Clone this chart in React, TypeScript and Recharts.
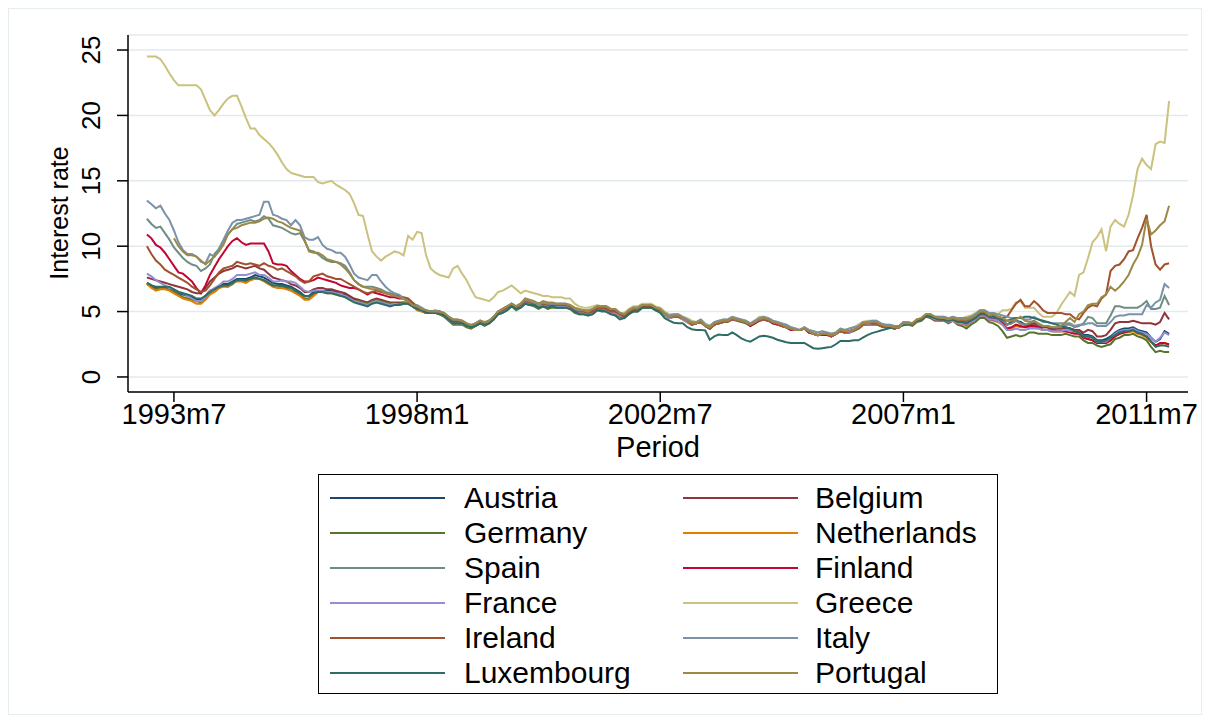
import React from 'react';
import { LineChart, Line, XAxis, YAxis, CartesianGrid } from 'recharts';

const FONT = '"Liberation Sans", Arial, Helvetica, sans-serif';

// monthly long-term interest rates, 1993m1 .. 2011m12 (one row per year)
const austria = [
  7.2, 7.0, 6.8, 6.8, 6.9, 6.8, 6.6, 6.4, 6.3, 6.2, 6.1, 5.9,
  5.9, 6.2, 6.6, 6.7, 6.9, 7.1, 7.1, 7.3, 7.5, 7.5, 7.5, 7.6,
  7.8, 7.7, 7.6, 7.4, 7.2, 7.1, 7.1, 7.0, 6.9, 6.7, 6.5, 6.2,
  6.2, 6.5, 6.6, 6.6, 6.6, 6.6, 6.5, 6.3, 6.3, 6.1, 5.9, 5.8,
  5.7, 5.6, 5.8, 5.9, 5.8, 5.7, 5.6, 5.6, 5.6, 5.6, 5.6, 5.4,
  5.2, 5.1, 5.0, 4.9, 5.0, 4.9, 4.7, 4.5, 4.2, 4.1, 4.2, 4.0,
  3.9, 4.0, 4.2, 4.0, 4.2, 4.5, 4.9, 5.1, 5.3, 5.5, 5.3, 5.5,
  5.8, 5.7, 5.6, 5.5, 5.6, 5.5, 5.5, 5.5, 5.5, 5.5, 5.4, 5.1,
  5.0, 5.0, 4.9, 5.0, 5.3, 5.3, 5.2, 5.0, 5.0, 4.8, 4.7, 5.0,
  5.1, 5.1, 5.4, 5.4, 5.4, 5.2, 5.1, 4.8, 4.6, 4.7, 4.7, 4.5,
  4.3, 4.1, 4.1, 4.2, 3.9, 3.7, 4.0, 4.2, 4.2, 4.3, 4.4, 4.4,
  4.3, 4.2, 4.0, 4.2, 4.4, 4.5, 4.4, 4.2, 4.1, 4.0, 3.8, 3.7,
  3.6, 3.6, 3.7, 3.5, 3.3, 3.2, 3.3, 3.3, 3.1, 3.3, 3.5, 3.4,
  3.5, 3.6, 3.8, 4.0, 4.1, 4.1, 4.1, 3.9, 3.8, 3.8, 3.7, 3.8,
  4.1, 4.1, 4.0, 4.3, 4.4, 4.7, 4.6, 4.5, 4.4, 4.4, 4.3, 4.4,
  4.2, 4.2, 4.1, 4.3, 4.5, 4.8, 4.8, 4.5, 4.5, 4.4, 4.2, 4.0,
  4.2, 4.3, 4.2, 4.0, 4.0, 4.1, 3.9, 3.8, 3.8, 3.7, 3.7, 3.7,
  3.8, 3.7, 3.6, 3.6, 3.2, 3.2, 3.1, 2.8, 2.8, 2.9, 3.1, 3.4,
  3.6, 3.7, 3.7, 3.8, 3.6, 3.5, 3.4, 3.0, 2.7, 2.9, 3.5, 3.3,
];

const belgium = [
  7.6, 7.5, 7.4, 7.3, 7.2, 7.1, 7.0, 6.9, 6.8, 6.7, 6.5, 6.4,
  6.4, 6.8, 7.3, 7.6, 7.9, 8.1, 8.2, 8.3, 8.5, 8.4, 8.3, 8.4,
  8.5, 8.3, 8.2, 7.9, 7.6, 7.5, 7.4, 7.3, 7.1, 7.0, 6.8, 6.5,
  6.5, 6.7, 6.8, 6.8, 6.7, 6.7, 6.6, 6.5, 6.4, 6.2, 6.0, 5.9,
  5.8, 5.7, 5.9, 6.0, 5.9, 5.8, 5.7, 5.7, 5.7, 5.7, 5.7, 5.5,
  5.3, 5.2, 5.0, 5.0, 5.0, 5.0, 4.8, 4.5, 4.3, 4.2, 4.2, 4.0,
  3.9, 4.1, 4.3, 4.1, 4.3, 4.6, 5.0, 5.1, 5.3, 5.6, 5.3, 5.5,
  5.9, 5.8, 5.7, 5.6, 5.7, 5.6, 5.6, 5.5, 5.6, 5.5, 5.4, 5.2,
  5.0, 5.0, 4.9, 5.0, 5.3, 5.3, 5.3, 5.0, 5.0, 4.8, 4.7, 5.0,
  5.2, 5.2, 5.5, 5.5, 5.5, 5.3, 5.2, 4.8, 4.6, 4.7, 4.7, 4.5,
  4.3, 4.1, 4.1, 4.3, 3.9, 3.7, 4.0, 4.2, 4.2, 4.3, 4.4, 4.4,
  4.3, 4.2, 4.0, 4.2, 4.4, 4.5, 4.4, 4.2, 4.1, 4.0, 3.8, 3.7,
  3.6, 3.6, 3.7, 3.5, 3.3, 3.2, 3.3, 3.3, 3.1, 3.3, 3.5, 3.4,
  3.5, 3.6, 3.8, 4.0, 4.1, 4.1, 4.1, 3.9, 3.8, 3.8, 3.7, 3.8,
  4.1, 4.1, 4.0, 4.3, 4.4, 4.7, 4.7, 4.5, 4.5, 4.5, 4.3, 4.4,
  4.3, 4.3, 4.2, 4.4, 4.5, 4.8, 4.8, 4.5, 4.6, 4.5, 4.4, 4.0,
  4.1, 4.3, 4.1, 4.0, 4.0, 4.1, 3.9, 3.8, 3.8, 3.6, 3.7, 3.7,
  3.7, 3.7, 3.6, 3.6, 3.4, 3.6, 3.5, 3.1, 3.1, 3.2, 3.6, 4.1,
  4.2, 4.2, 4.2, 4.3, 4.2, 4.1, 4.1, 4.1, 4.0, 4.2, 4.9, 4.4,
];

const germany = [
  7.1, 6.9, 6.7, 6.8, 6.8, 6.7, 6.5, 6.3, 6.1, 6.0, 5.9, 5.8,
  5.7, 6.0, 6.4, 6.5, 6.8, 7.0, 6.9, 7.1, 7.4, 7.4, 7.3, 7.5,
  7.6, 7.5, 7.4, 7.2, 7.0, 7.0, 6.9, 6.8, 6.6, 6.5, 6.3, 6.0,
  6.0, 6.3, 6.5, 6.5, 6.5, 6.5, 6.4, 6.2, 6.2, 6.0, 5.8, 5.8,
  5.7, 5.6, 5.8, 5.9, 5.8, 5.7, 5.6, 5.6, 5.6, 5.7, 5.6, 5.4,
  5.2, 5.1, 4.9, 4.9, 4.9, 4.8, 4.6, 4.3, 4.0, 4.0, 4.0, 3.8,
  3.7, 3.9, 4.1, 3.9, 4.1, 4.4, 4.8, 4.9, 5.1, 5.4, 5.1, 5.3,
  5.6, 5.5, 5.4, 5.2, 5.4, 5.2, 5.3, 5.3, 5.3, 5.3, 5.2, 4.9,
  4.8, 4.8, 4.7, 4.8, 5.1, 5.0, 5.0, 4.8, 4.8, 4.6, 4.5, 4.8,
  5.0, 5.0, 5.3, 5.3, 5.3, 5.1, 5.0, 4.7, 4.5, 4.6, 4.6, 4.4,
  4.2, 4.0, 4.1, 4.2, 3.9, 3.7, 4.0, 4.1, 4.2, 4.2, 4.4, 4.3,
  4.2, 4.1, 3.9, 4.1, 4.3, 4.4, 4.3, 4.1, 4.0, 3.9, 3.8, 3.6,
  3.6, 3.6, 3.7, 3.4, 3.3, 3.2, 3.3, 3.3, 3.1, 3.3, 3.5, 3.4,
  3.4, 3.5, 3.7, 4.0, 4.0, 4.0, 4.0, 3.9, 3.8, 3.8, 3.7, 3.8,
  4.0, 4.0, 3.9, 4.2, 4.3, 4.6, 4.5, 4.3, 4.3, 4.3, 4.1, 4.3,
  4.0, 3.9, 3.7, 4.0, 4.2, 4.5, 4.5, 4.2, 4.1, 3.9, 3.5, 3.0,
  3.1, 3.2, 3.1, 3.2, 3.4, 3.4, 3.3, 3.3, 3.3, 3.2, 3.2, 3.2,
  3.3, 3.2, 3.1, 3.1, 2.8, 2.6, 2.6, 2.4, 2.3, 2.4, 2.5, 2.9,
  3.0, 3.2, 3.2, 3.3, 3.1, 3.0, 2.8, 2.3, 1.9, 2.0, 1.9, 1.9,
];

const netherlands = [
  7.1, 6.8, 6.6, 6.7, 6.7, 6.6, 6.4, 6.2, 6.0, 5.9, 5.8, 5.6,
  5.6, 5.9, 6.3, 6.5, 6.8, 6.9, 6.9, 7.2, 7.3, 7.3, 7.2, 7.4,
  7.5, 7.5, 7.3, 7.1, 6.9, 6.8, 6.8, 6.7, 6.6, 6.4, 6.2, 5.9,
  5.9, 6.2, 6.5, 6.5, 6.4, 6.4, 6.3, 6.2, 6.2, 6.0, 5.8, 5.7,
  5.6, 5.5, 5.7, 5.8, 5.7, 5.6, 5.5, 5.6, 5.5, 5.6, 5.6, 5.4,
  5.1, 5.0, 4.9, 4.9, 4.9, 4.8, 4.7, 4.4, 4.1, 4.1, 4.1, 3.9,
  3.8, 4.0, 4.2, 4.0, 4.2, 4.5, 4.8, 5.0, 5.2, 5.5, 5.2, 5.4,
  5.7, 5.6, 5.5, 5.4, 5.5, 5.4, 5.4, 5.4, 5.4, 5.4, 5.3, 5.1,
  4.9, 4.9, 4.8, 4.9, 5.2, 5.2, 5.1, 4.9, 4.9, 4.7, 4.6, 4.9,
  5.1, 5.1, 5.4, 5.3, 5.3, 5.2, 5.0, 4.7, 4.5, 4.6, 4.6, 4.4,
  4.2, 4.0, 4.1, 4.2, 3.9, 3.7, 4.0, 4.1, 4.2, 4.3, 4.4, 4.4,
  4.3, 4.2, 4.0, 4.2, 4.4, 4.4, 4.3, 4.2, 4.1, 3.9, 3.8, 3.7,
  3.6, 3.6, 3.7, 3.5, 3.3, 3.2, 3.3, 3.3, 3.1, 3.3, 3.5, 3.4,
  3.4, 3.6, 3.7, 4.0, 4.0, 4.1, 4.1, 3.9, 3.8, 3.8, 3.7, 3.8,
  4.1, 4.1, 4.0, 4.3, 4.4, 4.7, 4.6, 4.4, 4.4, 4.4, 4.2, 4.3,
  4.1, 4.1, 3.9, 4.2, 4.4, 4.7, 4.7, 4.4, 4.3, 4.2, 4.0, 3.6,
  3.7, 3.9, 3.8, 3.8, 3.8, 3.8, 3.7, 3.6, 3.6, 3.5, 3.5, 3.5,
  3.5, 3.5, 3.4, 3.3, 3.0, 2.9, 2.8, 2.6, 2.6, 2.6, 2.8, 3.1,
  3.3, 3.4, 3.4, 3.5, 3.3, 3.2, 3.0, 2.7, 2.4, 2.5, 2.6, 2.4,
];

const spain = [
  12.1, 11.7, 11.4, 11.5, 11.0, 10.5, 9.9, 9.5, 9.1, 8.8, 8.6, 8.5,
  8.1, 8.3, 8.6, 9.4, 9.8, 10.4, 10.9, 11.3, 11.7, 11.8, 11.9, 12.0,
  11.9, 12.0, 12.3, 12.1, 11.6, 11.5, 11.4, 11.2, 11.0, 10.9, 11.0, 10.4,
  9.7, 9.6, 9.4, 9.1, 8.9, 8.8, 8.8, 8.7, 8.5, 8.0, 7.4, 7.1,
  6.9, 6.9, 6.9, 6.8, 6.7, 6.5, 6.4, 6.3, 6.2, 6.0, 5.8, 5.5,
  5.2, 5.1, 5.0, 5.0, 5.0, 5.0, 4.8, 4.6, 4.4, 4.3, 4.3, 4.1,
  3.9, 4.1, 4.3, 4.1, 4.3, 4.6, 5.0, 5.2, 5.4, 5.6, 5.4, 5.6,
  5.9, 5.8, 5.7, 5.6, 5.7, 5.6, 5.6, 5.6, 5.6, 5.6, 5.4, 5.2,
  5.1, 5.1, 5.0, 5.1, 5.4, 5.4, 5.3, 5.1, 5.1, 4.9, 4.8, 5.0,
  5.2, 5.2, 5.5, 5.4, 5.4, 5.3, 5.2, 4.8, 4.6, 4.7, 4.7, 4.5,
  4.3, 4.1, 4.1, 4.3, 3.9, 3.7, 4.0, 4.2, 4.2, 4.3, 4.4, 4.4,
  4.3, 4.2, 4.0, 4.2, 4.4, 4.5, 4.4, 4.2, 4.1, 4.0, 3.8, 3.7,
  3.6, 3.6, 3.7, 3.5, 3.3, 3.2, 3.3, 3.3, 3.1, 3.3, 3.5, 3.4,
  3.5, 3.6, 3.8, 4.0, 4.1, 4.1, 4.1, 3.9, 3.8, 3.8, 3.7, 3.8,
  4.1, 4.1, 4.0, 4.3, 4.4, 4.7, 4.7, 4.5, 4.5, 4.4, 4.3, 4.4,
  4.3, 4.3, 4.2, 4.4, 4.5, 4.8, 4.8, 4.6, 4.6, 4.5, 4.3, 4.0,
  4.1, 4.3, 4.1, 4.0, 4.1, 4.3, 4.0, 3.9, 3.9, 3.8, 3.8, 3.8,
  4.0, 4.0, 3.8, 3.9, 4.1, 4.6, 4.5, 4.1, 4.1, 4.1, 4.7, 5.4,
  5.4, 5.3, 5.3, 5.3, 5.3, 5.5, 5.8, 5.2, 5.2, 5.3, 6.2, 5.5,
];

const finland = [
  10.9, 10.6, 10.1, 9.9, 9.5, 9.0, 8.5, 8.0, 7.9, 7.6, 7.3, 6.8,
  6.4, 7.0, 7.8, 8.4, 9.0, 9.5, 10.0, 10.4, 10.6, 10.3, 10.1, 10.2,
  10.2, 10.2, 10.2, 9.6, 8.7, 8.6, 8.6, 8.5, 8.1, 7.8, 7.5, 7.3,
  7.3, 7.4, 7.6, 7.5, 7.4, 7.3, 7.2, 7.0, 6.9, 6.8, 6.8, 6.7,
  6.5, 6.3, 6.5, 6.4, 6.3, 6.2, 6.1, 6.1, 6.0, 6.0, 5.8, 5.6,
  5.4, 5.2, 5.0, 5.0, 5.0, 5.0, 4.8, 4.5, 4.2, 4.2, 4.2, 4.0,
  3.9, 4.0, 4.2, 4.0, 4.2, 4.5, 4.9, 5.1, 5.3, 5.5, 5.3, 5.5,
  5.8, 5.7, 5.6, 5.5, 5.6, 5.5, 5.5, 5.5, 5.5, 5.5, 5.4, 5.1,
  5.0, 5.0, 4.9, 5.0, 5.2, 5.3, 5.2, 5.0, 5.0, 4.8, 4.6, 4.9,
  5.1, 5.1, 5.4, 5.4, 5.4, 5.2, 5.1, 4.8, 4.6, 4.7, 4.7, 4.5,
  4.3, 4.0, 4.1, 4.2, 3.9, 3.7, 4.0, 4.1, 4.2, 4.3, 4.4, 4.4,
  4.3, 4.2, 3.9, 4.1, 4.3, 4.4, 4.3, 4.1, 4.0, 3.9, 3.8, 3.6,
  3.6, 3.6, 3.7, 3.4, 3.3, 3.2, 3.2, 3.2, 3.1, 3.3, 3.5, 3.4,
  3.4, 3.6, 3.7, 4.0, 4.0, 4.1, 4.1, 3.9, 3.8, 3.8, 3.7, 3.8,
  4.1, 4.1, 4.0, 4.3, 4.4, 4.7, 4.6, 4.4, 4.4, 4.4, 4.2, 4.3,
  4.1, 4.1, 4.0, 4.2, 4.4, 4.7, 4.7, 4.4, 4.4, 4.3, 4.1, 3.7,
  3.8, 4.0, 3.9, 3.8, 3.9, 3.9, 3.8, 3.6, 3.6, 3.5, 3.5, 3.5,
  3.5, 3.4, 3.3, 3.3, 3.0, 2.9, 2.8, 2.6, 2.6, 2.6, 2.8, 3.1,
  3.3, 3.4, 3.5, 3.6, 3.4, 3.3, 3.1, 2.7, 2.4, 2.6, 2.6, 2.5,
];

const france = [
  7.9, 7.7, 7.4, 7.2, 7.0, 6.8, 6.7, 6.5, 6.4, 6.2, 6.0, 5.8,
  5.8, 6.1, 6.6, 6.8, 7.0, 7.3, 7.3, 7.5, 7.8, 7.8, 7.8, 7.9,
  8.0, 7.8, 7.8, 7.6, 7.3, 7.3, 7.4, 7.3, 7.3, 7.2, 6.9, 6.6,
  6.5, 6.6, 6.6, 6.6, 6.5, 6.5, 6.4, 6.3, 6.2, 6.0, 5.8, 5.7,
  5.6, 5.5, 5.7, 5.8, 5.7, 5.6, 5.5, 5.6, 5.5, 5.6, 5.6, 5.4,
  5.2, 5.1, 4.9, 4.9, 4.9, 4.9, 4.7, 4.4, 4.1, 4.1, 4.1, 3.9,
  3.8, 4.0, 4.2, 4.0, 4.2, 4.5, 4.9, 5.0, 5.2, 5.5, 5.2, 5.4,
  5.7, 5.6, 5.5, 5.4, 5.5, 5.4, 5.4, 5.4, 5.4, 5.4, 5.3, 5.1,
  4.9, 4.9, 4.8, 4.9, 5.2, 5.2, 5.1, 4.9, 4.9, 4.7, 4.6, 4.9,
  5.1, 5.1, 5.4, 5.3, 5.3, 5.2, 5.0, 4.7, 4.5, 4.6, 4.6, 4.4,
  4.2, 4.0, 4.1, 4.2, 3.9, 3.7, 4.0, 4.1, 4.2, 4.3, 4.4, 4.4,
  4.3, 4.2, 4.0, 4.2, 4.4, 4.4, 4.3, 4.2, 4.1, 3.9, 3.8, 3.7,
  3.6, 3.6, 3.7, 3.5, 3.3, 3.2, 3.3, 3.3, 3.1, 3.3, 3.5, 3.4,
  3.4, 3.6, 3.7, 4.0, 4.0, 4.1, 4.1, 3.9, 3.8, 3.8, 3.7, 3.8,
  4.1, 4.1, 4.0, 4.3, 4.4, 4.7, 4.6, 4.4, 4.4, 4.4, 4.2, 4.3,
  4.1, 4.1, 4.0, 4.2, 4.4, 4.7, 4.7, 4.4, 4.4, 4.3, 4.0, 3.6,
  3.6, 3.7, 3.6, 3.6, 3.7, 3.7, 3.7, 3.6, 3.6, 3.5, 3.5, 3.5,
  3.6, 3.5, 3.5, 3.4, 3.1, 3.1, 3.0, 2.7, 2.7, 2.7, 3.0, 3.3,
  3.5, 3.6, 3.6, 3.7, 3.5, 3.4, 3.3, 3.0, 2.7, 3.0, 3.4, 3.2,
];

const greece = [
  24.5, 24.5, 24.5, 24.3, 23.8, 23.2, 22.7, 22.3, 22.3, 22.3, 22.3, 22.3,
  22.0, 21.2, 20.4, 20.0, 20.4, 20.9, 21.3, 21.5, 21.5, 20.7, 19.8, 19.0,
  19.0, 18.5, 18.2, 17.9, 17.5, 17.0, 16.4, 15.9, 15.6, 15.5, 15.4, 15.3,
  15.3, 15.3, 14.9, 14.8, 14.9, 15.0, 14.7, 14.5, 14.3, 14.0, 13.3, 12.4,
  12.3, 10.9, 9.6, 9.2, 8.9, 9.2, 9.4, 9.6, 9.5, 9.3, 10.8, 10.5,
  11.1, 11.0, 9.3, 8.3, 8.0, 7.8, 7.7, 7.6, 8.3, 8.5, 7.9, 7.4,
  6.7, 6.1, 6.0, 5.9, 5.8, 6.1, 6.5, 6.6, 6.8, 7.0, 6.7, 6.4,
  6.6, 6.5, 6.4, 6.3, 6.2, 6.2, 6.1, 6.1, 6.1, 6.0, 6.0, 5.6,
  5.4, 5.3, 5.3, 5.4, 5.5, 5.4, 5.4, 5.2, 5.2, 4.9, 4.9, 5.2,
  5.4, 5.4, 5.6, 5.6, 5.6, 5.4, 5.3, 5.0, 4.8, 4.8, 4.8, 4.6,
  4.5, 4.3, 4.2, 4.4, 4.1, 3.9, 4.2, 4.3, 4.4, 4.4, 4.6, 4.5,
  4.4, 4.3, 4.1, 4.3, 4.6, 4.6, 4.5, 4.3, 4.2, 4.1, 4.0, 3.8,
  3.7, 3.6, 3.8, 3.6, 3.5, 3.4, 3.5, 3.4, 3.3, 3.4, 3.7, 3.6,
  3.7, 3.8, 4.0, 4.2, 4.3, 4.3, 4.3, 4.1, 4.0, 4.0, 3.9, 3.9,
  4.2, 4.2, 4.1, 4.4, 4.5, 4.8, 4.8, 4.6, 4.6, 4.6, 4.5, 4.6,
  4.5, 4.5, 4.6, 4.7, 4.9, 5.1, 5.1, 4.9, 4.9, 4.8, 5.1, 5.1,
  5.2, 5.7, 5.8, 5.3, 5.3, 5.3, 4.9, 4.6, 4.6, 4.6, 4.9, 5.5,
  6.0, 6.5, 6.2, 7.8, 8.0, 9.1, 10.3, 10.7, 11.3, 9.6, 11.5, 12.0,
  11.7, 11.5, 12.4, 13.9, 15.9, 16.7, 16.2, 15.9, 17.8, 18.0, 17.9, 21.1,
];

const ireland = [
  10.0, 9.4, 8.9, 8.6, 8.2, 8.0, 7.8, 7.6, 7.4, 7.2, 6.9, 6.7,
  6.5, 6.6, 7.0, 7.5, 8.0, 8.3, 8.4, 8.5, 8.8, 8.7, 8.6, 8.7,
  8.6, 8.5, 8.7, 8.5, 8.4, 8.2, 8.3, 8.1, 7.9, 7.7, 7.4, 7.2,
  7.3, 7.7, 7.8, 7.9, 7.7, 7.6, 7.5, 7.5, 7.3, 7.1, 6.9, 6.7,
  6.5, 6.4, 6.5, 6.6, 6.5, 6.4, 6.3, 6.2, 6.2, 6.1, 6.0, 5.7,
  5.4, 5.2, 5.0, 5.0, 5.0, 5.0, 4.8, 4.6, 4.3, 4.3, 4.2, 4.0,
  3.9, 4.0, 4.2, 4.1, 4.2, 4.5, 4.9, 5.1, 5.3, 5.5, 5.3, 5.5,
  5.8, 5.7, 5.6, 5.5, 5.6, 5.5, 5.5, 5.5, 5.5, 5.5, 5.4, 5.1,
  5.0, 5.0, 4.9, 5.0, 5.3, 5.3, 5.2, 5.0, 5.0, 4.8, 4.6, 4.9,
  5.1, 5.1, 5.4, 5.4, 5.4, 5.2, 5.1, 4.8, 4.6, 4.6, 4.6, 4.5,
  4.3, 4.0, 4.1, 4.2, 3.9, 3.7, 4.0, 4.1, 4.2, 4.3, 4.4, 4.4,
  4.3, 4.2, 4.0, 4.2, 4.4, 4.4, 4.3, 4.2, 4.1, 3.9, 3.8, 3.7,
  3.6, 3.6, 3.7, 3.5, 3.3, 3.2, 3.3, 3.3, 3.1, 3.3, 3.5, 3.4,
  3.5, 3.6, 3.7, 4.0, 4.1, 4.1, 4.1, 3.9, 3.8, 3.8, 3.7, 3.8,
  4.1, 4.1, 4.0, 4.3, 4.4, 4.7, 4.7, 4.5, 4.4, 4.4, 4.3, 4.4,
  4.3, 4.3, 4.3, 4.5, 4.6, 4.9, 4.9, 4.6, 4.7, 4.6, 4.5, 4.6,
  5.1, 5.6, 5.9, 5.4, 5.4, 5.8, 5.5, 5.1, 4.9, 4.9, 4.9, 4.9,
  4.8, 4.8, 4.5, 4.4, 4.9, 5.3, 5.5, 5.4, 6.0, 6.3, 8.1, 8.5,
  8.6, 9.0, 9.6, 9.7, 10.6, 11.4, 12.4, 10.0, 8.6, 8.2, 8.6, 8.7,
];

const italy = [
  13.5, 13.2, 12.9, 13.1, 12.5, 12.0, 11.2, 10.3, 9.7, 9.4, 9.4, 9.2,
  8.8, 8.7, 9.4, 9.2, 9.8, 10.5, 11.2, 11.8, 12.0, 12.0, 12.1, 12.2,
  12.3, 12.4, 13.4, 13.4, 12.4, 12.3, 12.1, 12.0, 11.6, 12.0, 11.6, 10.7,
  10.5, 10.5, 10.7, 10.1, 9.8, 9.7, 9.5, 9.5, 9.2, 8.6, 7.9, 7.6,
  7.5, 7.4, 7.8, 7.8, 7.3, 6.9, 6.6, 6.4, 6.3, 6.0, 5.7, 5.4,
  5.5, 5.3, 5.1, 5.0, 5.1, 5.0, 4.9, 4.6, 4.4, 4.4, 4.3, 4.1,
  3.9, 4.1, 4.3, 4.1, 4.3, 4.6, 5.0, 5.2, 5.4, 5.6, 5.4, 5.6,
  5.9, 5.8, 5.7, 5.5, 5.7, 5.6, 5.6, 5.6, 5.6, 5.6, 5.5, 5.2,
  5.1, 5.1, 5.0, 5.2, 5.4, 5.4, 5.4, 5.2, 5.2, 4.9, 4.8, 5.1,
  5.3, 5.3, 5.5, 5.5, 5.5, 5.3, 5.2, 4.9, 4.7, 4.8, 4.8, 4.6,
  4.4, 4.2, 4.2, 4.4, 4.0, 3.9, 4.2, 4.3, 4.4, 4.4, 4.6, 4.5,
  4.4, 4.3, 4.1, 4.3, 4.5, 4.6, 4.5, 4.3, 4.2, 4.1, 4.0, 3.8,
  3.7, 3.6, 3.8, 3.6, 3.5, 3.4, 3.5, 3.4, 3.3, 3.4, 3.7, 3.6,
  3.7, 3.8, 3.9, 4.2, 4.2, 4.3, 4.3, 4.1, 4.0, 4.0, 3.9, 3.9,
  4.2, 4.2, 4.1, 4.4, 4.5, 4.8, 4.8, 4.6, 4.6, 4.6, 4.5, 4.6,
  4.5, 4.5, 4.5, 4.6, 4.8, 5.1, 5.1, 4.9, 4.9, 4.8, 4.7, 4.6,
  4.5, 4.5, 4.5, 4.4, 4.4, 4.6, 4.4, 4.2, 4.2, 4.1, 4.1, 4.1,
  4.1, 4.1, 3.9, 4.0, 4.0, 4.1, 4.1, 3.9, 3.9, 3.9, 4.2, 4.6,
  4.7, 4.7, 4.8, 4.8, 4.8, 4.8, 5.5, 5.3, 5.7, 5.9, 7.1, 6.8,
];

const luxembourg = [
  7.2, 7.0, 6.9, 6.9, 6.9, 6.9, 6.7, 6.5, 6.4, 6.3, 6.2, 6.0,
  6.0, 6.2, 6.5, 6.7, 6.9, 7.0, 7.0, 7.2, 7.4, 7.4, 7.4, 7.5,
  7.6, 7.5, 7.4, 7.2, 7.0, 7.0, 7.0, 6.9, 6.8, 6.6, 6.4, 6.2,
  6.2, 6.4, 6.5, 6.5, 6.4, 6.4, 6.3, 6.2, 6.1, 5.9, 5.7, 5.6,
  5.5, 5.4, 5.6, 5.7, 5.6, 5.5, 5.4, 5.5, 5.5, 5.6, 5.6, 5.4,
  5.2, 5.1, 4.9, 4.9, 4.9, 4.8, 4.7, 4.4, 4.1, 4.1, 4.1, 3.9,
  3.8, 3.9, 4.1, 4.0, 4.1, 4.4, 4.8, 4.9, 5.1, 5.4, 5.2, 5.3,
  5.6, 5.5, 5.5, 5.3, 5.4, 5.3, 5.4, 5.3, 5.3, 5.3, 5.2, 5.0,
  4.8, 4.8, 4.7, 4.8, 5.1, 5.1, 5.0, 4.8, 4.7, 4.4, 4.5, 4.8,
  5.0, 5.0, 5.3, 5.3, 5.3, 5.1, 4.9, 4.5, 4.3, 4.15, 4.1, 4.1,
  3.8, 3.65, 3.6, 3.6, 3.55, 2.85, 3.1, 3.25, 3.2, 3.2, 3.4, 3.2,
  2.95, 2.8, 2.7, 2.9, 3.1, 3.15, 3.1, 3.0, 2.85, 2.75, 2.65, 2.6,
  2.6, 2.6, 2.6, 2.4, 2.2, 2.15, 2.2, 2.25, 2.3, 2.5, 2.75, 2.75,
  2.75, 2.8, 2.8, 3.0, 3.2, 3.35, 3.45, 3.55, 3.65, 3.75, 3.8, 3.85,
  3.95, 4.05, 4.1, 4.3, 4.4, 4.7, 4.6, 4.5, 4.4, 4.4, 4.3, 4.4,
  4.2, 4.2, 4.1, 4.3, 4.5, 4.8, 4.8, 4.6, 4.6, 4.5, 4.4, 4.3,
  4.4, 4.5, 4.5, 4.6, 4.6, 4.5, 4.4, 4.3, 4.2, 4.1, 4.0, 3.9,
  3.8, 3.7, 3.5, 3.4, 3.1, 3.1, 3.0, 2.7, 2.7, 2.8, 3.0, 3.2,
  3.4, 3.5, 3.5, 3.6, 3.4, 3.3, 3.1, 2.7, 2.3, 2.4, 2.4, 2.3,
];

const portugal = [
  null, null, null, null, null, null, 10.6, 10.0, 9.6, 9.3, 9.3, 9.2,
  8.9, 8.6, 8.9, 9.2, 9.6, 10.1, 10.9, 11.3, 11.4, 11.6, 11.7, 11.8,
  11.8, 11.9, 12.1, 12.2, 12.1, 11.9, 11.8, 11.6, 11.4, 11.3, 11.2, 10.5,
  9.6, 9.5, 9.5, 9.3, 9.0, 8.9, 8.8, 8.6, 8.3, 7.9, 7.4, 7.1,
  6.9, 6.8, 6.7, 6.7, 6.6, 6.4, 6.3, 6.2, 6.1, 6.0, 5.8, 5.5,
  5.4, 5.2, 5.1, 5.0, 5.0, 5.0, 4.9, 4.6, 4.4, 4.4, 4.3, 4.1,
  4.0, 4.1, 4.3, 4.2, 4.3, 4.6, 5.0, 5.2, 5.4, 5.6, 5.4, 5.6,
  6.0, 5.9, 5.8, 5.6, 5.8, 5.7, 5.7, 5.6, 5.6, 5.6, 5.5, 5.3,
  5.2, 5.1, 5.1, 5.2, 5.4, 5.4, 5.4, 5.2, 5.2, 4.9, 4.8, 5.1,
  5.3, 5.3, 5.5, 5.5, 5.5, 5.3, 5.2, 4.8, 4.6, 4.7, 4.7, 4.5,
  4.3, 4.1, 4.1, 4.3, 3.9, 3.8, 4.1, 4.2, 4.3, 4.3, 4.5, 4.4,
  4.3, 4.2, 4.0, 4.2, 4.4, 4.5, 4.4, 4.2, 4.1, 4.0, 3.8, 3.7,
  3.6, 3.6, 3.7, 3.5, 3.3, 3.2, 3.3, 3.3, 3.2, 3.3, 3.6, 3.5,
  3.5, 3.6, 3.8, 4.1, 4.1, 4.2, 4.2, 4.0, 3.9, 3.9, 3.8, 3.8,
  4.1, 4.1, 4.1, 4.4, 4.5, 4.8, 4.8, 4.6, 4.5, 4.5, 4.4, 4.5,
  4.4, 4.4, 4.4, 4.5, 4.7, 5.0, 5.0, 4.7, 4.8, 4.6, 4.5, 4.3,
  4.3, 4.4, 4.6, 4.3, 4.2, 4.3, 4.1, 3.9, 3.9, 3.8, 3.8, 3.9,
  4.2, 4.5, 4.2, 4.8, 5.0, 5.5, 5.6, 5.6, 6.1, 6.3, 6.9, 6.6,
  6.9, 7.3, 7.8, 8.6, 9.2, 10.1, 12.1, 10.9, 11.2, 11.6, 11.9, 13.1,
];

const countries = [
  'Austria', 'Belgium', 'Germany', 'Netherlands', 'Spain', 'Finland',
  'France', 'Greece', 'Ireland', 'Italy', 'Luxembourg', 'Portugal',
];
const lineColors = [
  '#1a476f', '#90353b', '#55752f', '#e37e00', '#6e8e84', '#c10534',
  '#938dd2', '#cac27e', '#a0522d', '#7b92a8', '#2d6d66', '#9c8847',
];
const series = [
  austria, belgium, germany, netherlands, spain, finland,
  france, greece, ireland, italy, luxembourg, portugal,
];

// month index 0 = 1993m1
const xTicks = [6, 60, 114, 168, 222];
const xTickLabels = ['1993m7', '1998m1', '2002m7', '2007m1', '2011m7'];
const yTicks = [0, 5, 10, 15, 20, 25];

const rows = austria.map((_, m) => {
  const row: Record<string, number | null> = { m };
  countries.forEach((c, i) => {
    row[c] = series[i][m];
  });
  return row;
});

function YTick({ y, payload }: any) {
  const x = 91;
  return (
    <text x={x} y={y} transform={`rotate(-90 ${x} ${y})`} textAnchor="middle"
      fontSize={26} fontFamily={FONT} fill="#000">
      {payload.value}
    </text>
  );
}

function XTick({ x, y, payload }: any) {
  const label = xTickLabels[xTicks.indexOf(payload.value)];
  return (
    <text x={x} y={y} dy={20} textAnchor="middle" fontSize={29} fontFamily={FONT} fill="#000">
      {label}
    </text>
  );
}

function LegendBox() {
  return (
    <div style={{
      position: 'absolute', left: 309, top: 465, width: 680, height: 220,
      boxSizing: 'border-box', border: '1.5px solid #000', background: '#fff',
    }}>
      {countries.map((c, i) => {
        const col = i % 2;
        const row = Math.floor(i / 2);
        return (
          <div key={c} style={{
            position: 'absolute', left: col === 0 ? 11 : 364, top: 8 + row * 35, height: 30,
            display: 'flex', alignItems: 'center',
          }}>
            <div style={{ width: 115, height: 2, background: lineColors[i] }} />
            <span style={{
              marginLeft: col === 0 ? 19 : 17, fontFamily: FONT, fontSize: 30, color: '#000',
              lineHeight: '30px', whiteSpace: 'nowrap',
            }}>{c}</span>
          </div>
        );
      })}
    </div>
  );
}

export default function App() {
  return (
    <div style={{
      position: 'relative', width: 1194, height: 707, boxSizing: 'border-box',
      border: '1px solid #e6edf0', background: '#fff',
    }}>
      <div style={{ position: 'absolute', left: 0, top: 0 }}>
        <LineChart width={1192} height={470} data={rows}
          margin={{ top: 26, right: 13, left: 0, bottom: 7 }}>
          <CartesianGrid vertical={false} stroke="#e2eaee" strokeWidth={1.5} />
          <XAxis
            dataKey="m" type="number" domain={[-4.2, 231.2]} allowDataOverflow
            ticks={xTicks} tick={<XTick />} interval={0} height={80}
            axisLine={{ stroke: '#000', strokeWidth: 1.5 }}
            tickLine={{ stroke: '#000', strokeWidth: 1.5 }} tickSize={10}
            label={() => (
              <text x={649} y={448} textAnchor="middle" fontSize={29} fontFamily={FONT} fill="#000">
                Period
              </text>
            )}
          />
          <YAxis
            type="number" domain={[-1.15, 26.15]} allowDataOverflow ticks={yTicks}
            tick={<YTick />} interval={0} width={119}
            axisLine={{ stroke: '#000', strokeWidth: 1.5 }}
            tickLine={{ stroke: '#000', strokeWidth: 1.5 }} tickSize={11}
            label={() => (
              <text x={59} y={204} transform="rotate(-90 59 204)" textAnchor="middle"
                fontSize={25} fontFamily={FONT} fill="#000">
                Interest rate
              </text>
            )}
          />
          {countries.map((c, i) => (
            <Line key={c} type="linear" dataKey={c} stroke={lineColors[i]} strokeWidth={2}
              dot={false} activeDot={false} isAnimationActive={false} />
          ))}
        </LineChart>
      </div>
      <LegendBox />
    </div>
  );
}
